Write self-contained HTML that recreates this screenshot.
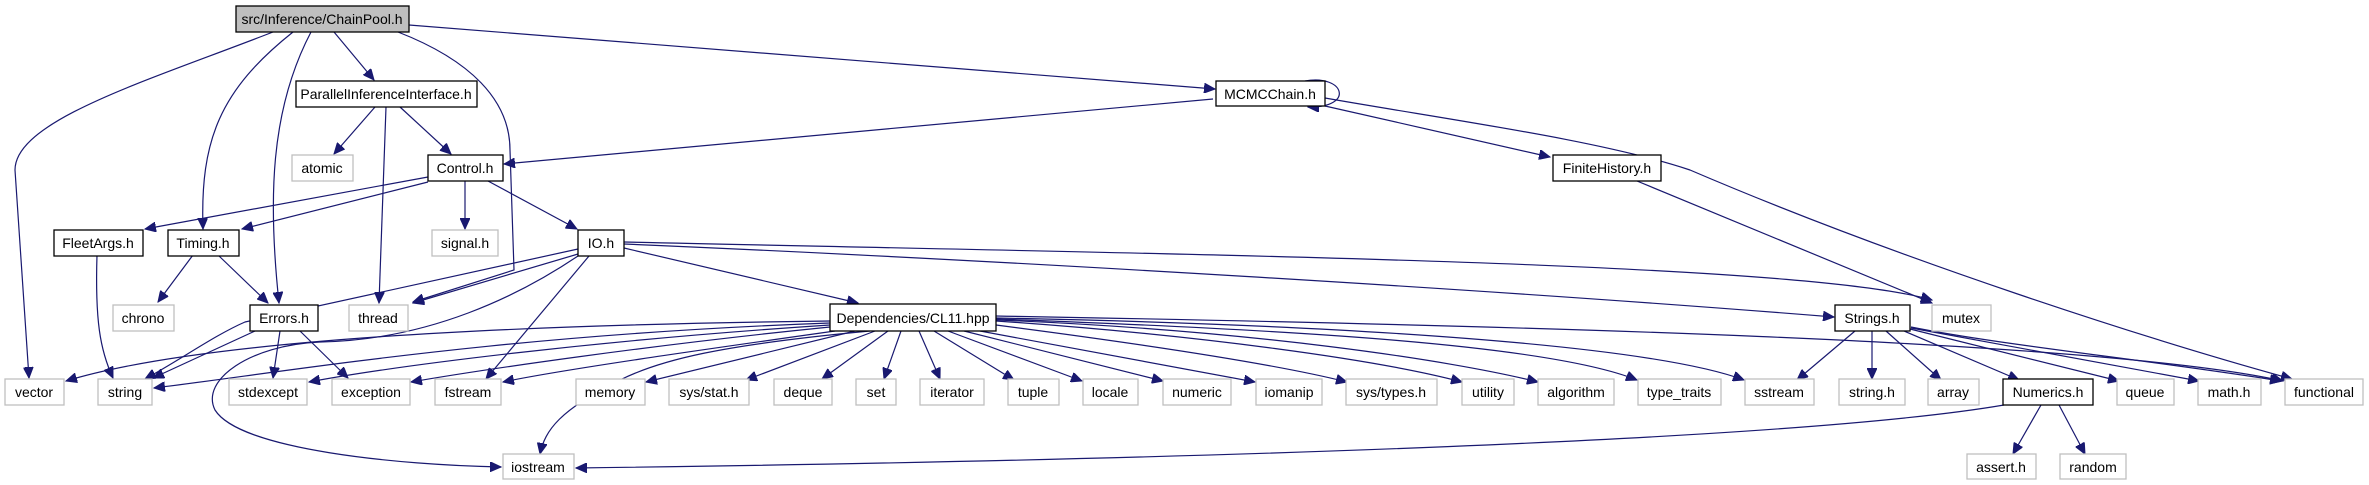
<!DOCTYPE html>
<html><head><meta charset="utf-8"><style>
html,body{margin:0;padding:0;background:#fff;}
svg{display:block;}
text{font-family:"Liberation Sans",Arial,sans-serif;font-size:14px;text-anchor:middle;fill:#000;}
.n{fill:#fff;stroke:#000;stroke-width:1.3;}
.g{fill:#fff;stroke:#bfbfbf;stroke-width:1.3;}
.r{fill:#bfbfbf;stroke:#000;stroke-width:1.3;}
path.e{fill:none;stroke:#191970;stroke-width:1.2;marker-end:url(#a);}
</style></head><body>
<svg width="2369" height="485" viewBox="0 0 2369 485" xmlns="http://www.w3.org/2000/svg">
<defs><marker id="a" markerWidth="12" markerHeight="10" refX="11" refY="5" orient="auto" markerUnits="userSpaceOnUse"><path d="M0,0 L11,5 L0,10 z" fill="#191970" stroke="#191970"/></marker></defs>

<!-- edges -->
<path class="e" d="M273,32 C150,80 15,120 15,170 L29,378"/>
<path class="e" d="M293,32 C220,90 200,140 203,229"/>
<path class="e" d="M311,32 C270,110 268,200 279,303"/>
<path class="e" d="M334,32 L374,80"/>
<path class="e" d="M398,32 C470,60 510,100 510,150 L514,270 L413,302"/>
<path class="e" d="M409,25 L1215,89"/>
<path class="e" d="M375,107 L334,154"/>
<path class="e" d="M386,107 L379,303"/>
<path class="e" d="M400,107 L451,154"/>
<path class="e" d="M1213,99 L504,164"/>
<path class="e" d="M1305,81 C1345,74 1355,108 1308,107"/>
<path class="e" d="M1325,106 L1550,157"/>
<path class="e" d="M1325,98 C1450,120 1600,140 1690,170 C1900,260 2150,340 2292,379"/>
<path class="e" d="M1637,181 L1932,303"/>
<path class="e" d="M428,177 L145,229"/>
<path class="e" d="M428,182 L242,229"/>
<path class="e" d="M465,181 L465,229"/>
<path class="e" d="M488,181 L577,229"/>
<path class="e" d="M97,255 C95,320 100,350 113,378"/>
<path class="e" d="M193,255 L158,302"/>
<path class="e" d="M218,255 L268,303"/>
<path class="e" d="M255,331 L153,378"/>
<path class="e" d="M280,331 L273,378"/>
<path class="e" d="M300,331 L348,378"/>
<path class="e" d="M578,249 L245,322 C215,335 180,360 145,379"/>
<path class="e" d="M578,254 L413,303"/>
<path class="e" d="M578,256 C520,295 430,340 320,342 C250,345 200,380 215,410 C240,450 400,465 501,467"/>
<path class="e" d="M589,256 L486,379"/>
<path class="e" d="M624,248 L858,303"/>
<path class="e" d="M624,242 C1200,255 1800,262 1932,300"/>
<path class="e" d="M624,244 C1000,260 1500,290 1834,317"/>
<!-- CL11 fan -->
<path class="e" d="M830,321 C500,325 200,340 66,381"/>
<path class="e" d="M830,323 C500,335 300,370 154,388"/>
<path class="e" d="M830,325 C600,340 400,365 309,382"/>
<path class="e" d="M830,327 C650,345 480,370 411,382"/>
<path class="e" d="M835,331 C700,350 560,370 503,382"/>
<path class="e" d="M855,331 L646,382"/>
<path class="e" d="M875,331 L746,380"/>
<path class="e" d="M888,331 L822,379"/>
<path class="e" d="M901,331 L884,379"/>
<path class="e" d="M919,331 L940,379"/>
<path class="e" d="M934,331 L1014,380"/>
<path class="e" d="M948,331 L1082,381"/>
<path class="e" d="M964,331 L1163,381"/>
<path class="e" d="M980,331 L1255,382"/>
<path class="e" d="M996,325 C1150,345 1280,365 1347,382"/>
<path class="e" d="M996,321 C1200,335 1380,360 1462,382"/>
<path class="e" d="M996,320 C1250,330 1450,360 1538,382"/>
<path class="e" d="M996,319 C1300,330 1550,345 1637,380"/>
<path class="e" d="M996,318 C1350,325 1650,345 1744,380"/>
<path class="e" d="M996,316 C1500,325 2100,340 2283,381"/>
<path class="e" d="M870,331 C720,345 660,360 620,380 C560,410 545,430 540,454"/>
<path class="e" d="M2004,405 C1800,440 1200,460 576,468"/>
<!-- Strings -->
<path class="e" d="M1855,331 L1797,380"/>
<path class="e" d="M1872,331 L1872,379"/>
<path class="e" d="M1886,331 L1941,380"/>
<path class="e" d="M1904,331 L2019,380"/>
<path class="e" d="M1910,329 L2119,381"/>
<path class="e" d="M1911,328 L2199,381"/>
<path class="e" d="M1911,327 C2000,345 2150,360 2281,381"/>
<path class="e" d="M2041,405 L2013,454"/>
<path class="e" d="M2059,405 L2085,454"/>

<!-- nodes -->
<rect class="r" x="236" y="6" width="173" height="26"/><text x="322" y="24">src/Inference/ChainPool.h</text>
<rect class="n" x="296" y="81" width="181" height="26"/><text x="386" y="99">ParallelInferenceInterface.h</text>
<rect class="n" x="1216" y="81" width="109" height="25"/><text x="1270" y="99">MCMCChain.h</text>
<rect class="g" x="292" y="155" width="61" height="26"/><text x="322" y="173">atomic</text>
<rect class="n" x="428" y="155" width="75" height="26"/><text x="465" y="173">Control.h</text>
<rect class="n" x="1553" y="155" width="108" height="26"/><text x="1607" y="173">FiniteHistory.h</text>
<rect class="n" x="54" y="230" width="89" height="26"/><text x="98" y="248">FleetArgs.h</text>
<rect class="n" x="168" y="230" width="71" height="26"/><text x="203" y="248">Timing.h</text>
<rect class="g" x="432" y="230" width="66" height="26"/><text x="465" y="248">signal.h</text>
<rect class="n" x="578" y="230" width="46" height="26"/><text x="601" y="248">IO.h</text>
<rect class="g" x="113" y="305" width="61" height="26"/><text x="143" y="323">chrono</text>
<rect class="n" x="250" y="305" width="68" height="26"/><text x="284" y="323">Errors.h</text>
<rect class="g" x="349" y="305" width="59" height="26"/><text x="378" y="323">thread</text>
<rect class="n" x="830" y="304" width="166" height="27"/><text x="913" y="323">Dependencies/CL11.hpp</text>
<rect class="n" x="1835" y="305" width="75" height="26"/><text x="1872" y="323">Strings.h</text>
<rect class="g" x="1932" y="305" width="59" height="26"/><text x="1961" y="323">mutex</text>

<rect class="g" x="5" y="379" width="59" height="26"/><text x="34" y="397">vector</text>
<rect class="g" x="98" y="379" width="54" height="26"/><text x="125" y="397">string</text>
<rect class="g" x="229" y="379" width="78" height="26"/><text x="268" y="397">stdexcept</text>
<rect class="g" x="332" y="379" width="78" height="26"/><text x="371" y="397">exception</text>
<rect class="g" x="435" y="379" width="66" height="26"/><text x="468" y="397">fstream</text>
<rect class="g" x="576" y="379" width="69" height="26"/><text x="610" y="397">memory</text>
<rect class="g" x="669" y="379" width="80" height="26"/><text x="709" y="397">sys/stat.h</text>
<rect class="g" x="774" y="379" width="58" height="26"/><text x="803" y="397">deque</text>
<rect class="g" x="856" y="379" width="40" height="26"/><text x="876" y="397">set</text>
<rect class="g" x="920" y="379" width="64" height="26"/><text x="952" y="397">iterator</text>
<rect class="g" x="1008" y="379" width="51" height="26"/><text x="1033" y="397">tuple</text>
<rect class="g" x="1083" y="379" width="55" height="26"/><text x="1110" y="397">locale</text>
<rect class="g" x="1163" y="379" width="68" height="26"/><text x="1197" y="397">numeric</text>
<rect class="g" x="1256" y="379" width="66" height="26"/><text x="1289" y="397">iomanip</text>
<rect class="g" x="1346" y="379" width="91" height="26"/><text x="1391" y="397">sys/types.h</text>
<rect class="g" x="1462" y="379" width="52" height="26"/><text x="1488" y="397">utility</text>
<rect class="g" x="1538" y="379" width="76" height="26"/><text x="1576" y="397">algorithm</text>
<rect class="g" x="1638" y="379" width="83" height="26"/><text x="1679" y="397">type_traits</text>
<rect class="g" x="1745" y="379" width="69" height="26"/><text x="1779" y="397">sstream</text>
<rect class="g" x="1839" y="379" width="66" height="26"/><text x="1872" y="397">string.h</text>
<rect class="g" x="1928" y="379" width="51" height="26"/><text x="1953" y="397">array</text>
<rect class="n" x="2003" y="379" width="90" height="26"/><text x="2048" y="397">Numerics.h</text>
<rect class="g" x="2117" y="379" width="57" height="26"/><text x="2145" y="397">queue</text>
<rect class="g" x="2198" y="379" width="63" height="26"/><text x="2229" y="397">math.h</text>
<rect class="g" x="2285" y="379" width="78" height="26"/><text x="2324" y="397">functional</text>

<rect class="g" x="503" y="454" width="71" height="25"/><text x="538" y="472">iostream</text>
<rect class="g" x="1967" y="454" width="69" height="25"/><text x="2001" y="472">assert.h</text>
<rect class="g" x="2060" y="454" width="66" height="25"/><text x="2093" y="472">random</text>
</svg>
</body></html>
